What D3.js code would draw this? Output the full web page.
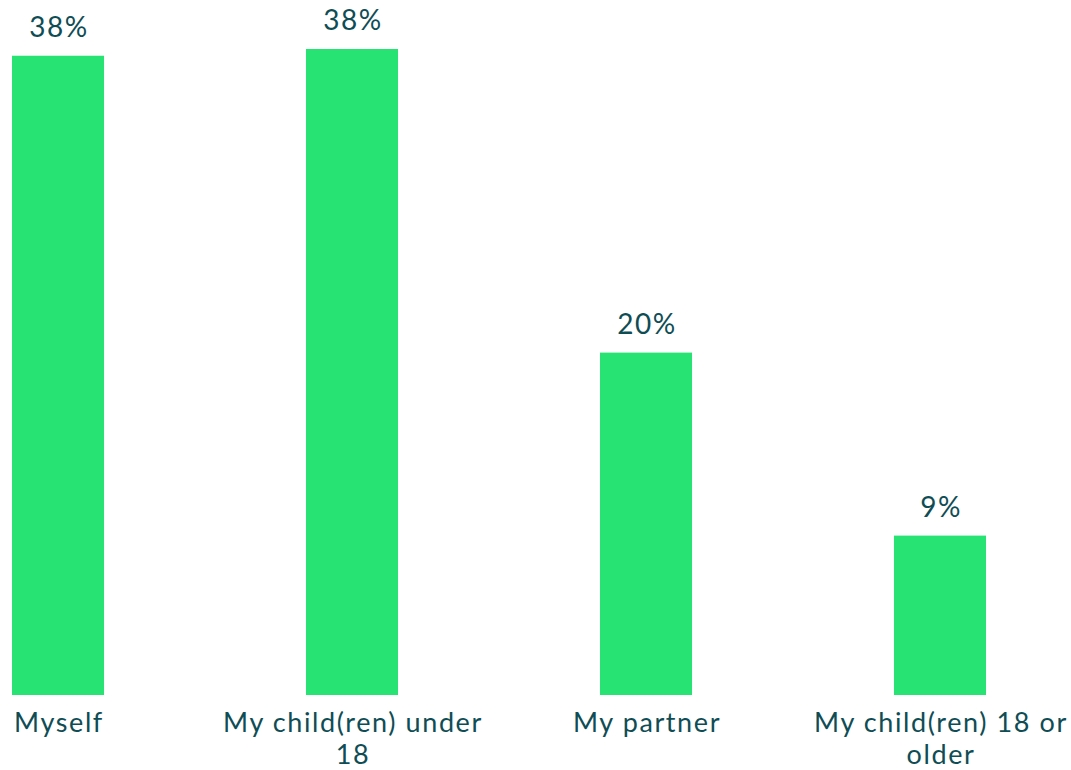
<!DOCTYPE html>
<html><head><meta charset="utf-8">
<script src="https://cdn.jsdelivr.net/npm/d3@7"></script>
<style>
html,body{margin:0;padding:0;background:#fff;}
svg{display:block;}
text{font-family:Lato,"Open Sans",sans-serif;fill:#0f4d55;}
</style></head>
<body>
<svg id="chart" width="1071" height="770"></svg>
<script>
const categories = ["Myself", "My child(ren) under 18", "My partner", "My child(ren) 18 or older"];
const labelLines = [["Myself"], ["My child(ren) under", "18"], ["My partner"], ["My child(ren) 18 or", "older"]];
const values = [37.9, 38.3, 20.3, 9.45];

const svg = d3.select("#chart");
const x = d3.scaleBand().domain(categories).range([12, 986]).paddingInner(0.687).paddingOuter(0);
const y = d3.scaleLinear().domain([0, d3.max(values)]).range([695, 49]);

const data = categories.map((c, i) => ({c, v: values[i], lines: labelLines[i]}));

svg.selectAll("rect.bar").data(data).join("rect")
  .attr("class", "bar")
  .attr("x", d => x(d.c))
  .attr("width", x.bandwidth())
  .attr("y", d => y(d.v))
  .attr("height", d => y(0) - y(d.v))
  .attr("fill", "#26e373");

svg.selectAll("text.val").data(data).join("text")
  .attr("class", "val")
  .attr("x", d => x(d.c) + x.bandwidth() / 2 + 1)
  .attr("y", d => y(d.v) - 19)
  .attr("text-anchor", "middle")
  .style("font-size", "28px")
  .style("letter-spacing", "1.5px")
  .text(d => Math.round(d.v) + "%");

const cat = svg.selectAll("text.cat").data(data).join("text")
  .attr("class", "cat")
  .attr("text-anchor", "middle")
  .style("font-size", "27px")
  .style("letter-spacing", "1.6px");
cat.selectAll("tspan").data(d => d.lines.map(l => ({l, cx: x(d.c) + x.bandwidth() / 2 + 1}))).join("tspan")
  .attr("x", t => t.cx)
  .attr("y", (t, i) => y(0) + 37 + i * 32)
  .text(t => t.l);
</script>
</body></html>
